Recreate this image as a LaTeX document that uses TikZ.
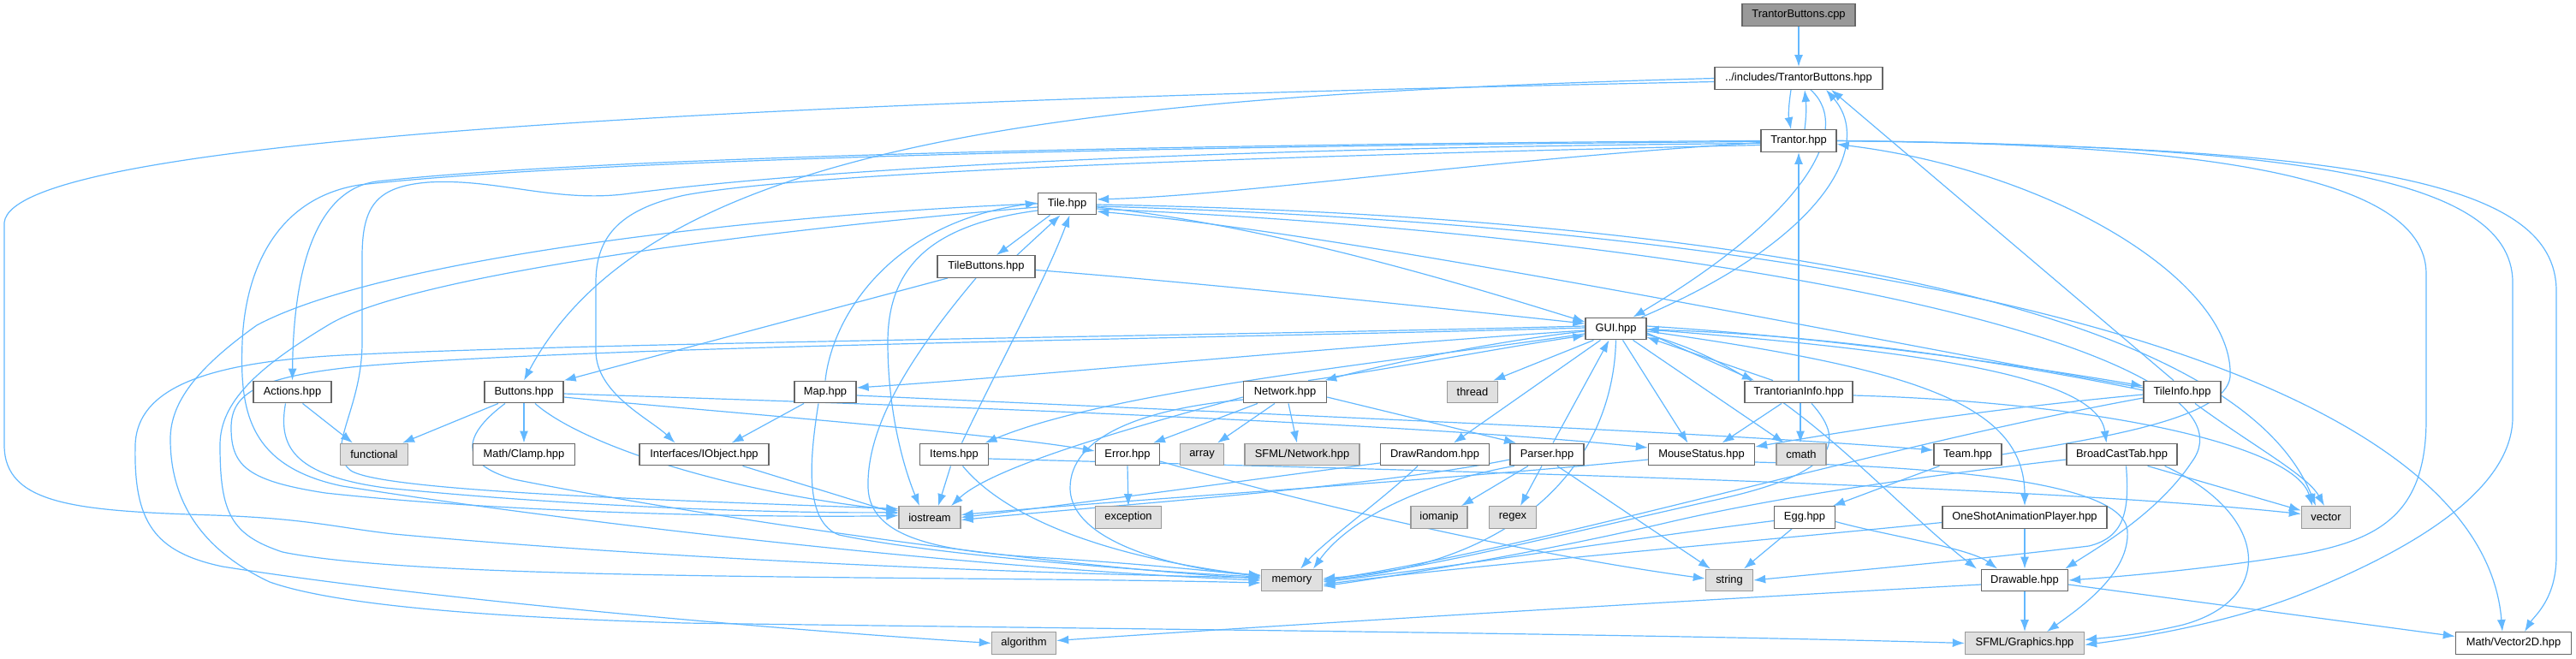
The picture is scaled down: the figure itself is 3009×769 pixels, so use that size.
\documentclass[tikz,border=0pt]{standalone}
\usepackage{fontspec}
\newfontfamily\lblfont{Liberation Sans}
\usetikzlibrary{arrows.meta}
\definecolor{edgec}{HTML}{63B8FF}
\definecolor{bdc}{HTML}{666666}
\definecolor{sysbd}{HTML}{999999}
\definecolor{sysfill}{HTML}{E0E0E0}
\definecolor{rootfill}{HTML}{999999}
\pgfdeclarelayer{bg}
\pgfsetlayers{bg,main}
\tikzset{
 box/.style={draw=bdc, fill=white, line width=1.4pt, minimum height=25.5pt, inner sep=0pt, font=\lblfont\fontsize{12.9pt}{15pt}\selectfont},
 sys/.style={box, draw=sysbd, fill=sysfill},
 rootbox/.style={box, fill=rootfill},
 edg/.style={draw=edgec, line width=1.2pt, -{Latex[length=14pt,width=10pt]}},
}
\begin{document}
\begin{tikzpicture}[x=1pt,y=-1pt]
\useasboundingbox (0,0) rectangle (3009,769);
% nodes
\node[rootbox, minimum width=132pt] (C) at (2101,17.5) {TrantorButtons.cpp};
\node[box, minimum width=196pt] (TBH) at (2101,91.5) {../includes/TrantorButtons.hpp};
\node[box, minimum width=88pt] (TR) at (2101,164.5) {Trantor.hpp};
\node[box, minimum width=68pt] (Tile) at (1246.5,238) {Tile.hpp};
\node[box, minimum width=114pt] (TB) at (1152,311.5) {TileButtons.hpp};
\node[box, minimum width=71pt] (GUI) at (1887.5,384) {GUI.hpp};
\node[box, minimum width=91pt] (Act) at (341.5,458) {Actions.hpp};
\node[box, minimum width=92pt] (But) at (612,458) {Buttons.hpp};
\node[box, minimum width=72pt] (Map) at (964,458) {Map.hpp};
\node[box, minimum width=97pt] (Net) at (1501,458) {Network.hpp};
\node[sys, minimum width=59pt] (thr) at (1720,458) {thread};
\node[box, minimum width=126pt] (TI) at (2101,458) {TrantorianInfo.hpp};
\node[box, minimum width=90pt] (TLI) at (2549,458) {TileInfo.hpp};
\node[sys, minimum width=79pt] (fun) at (437,531) {functional};
\node[box, minimum width=119pt] (Cla) at (612,531) {Math/Clamp.hpp};
\node[box, minimum width=151pt] (IOb) at (822.5,531) {Interfaces/IObject.hpp};
\node[box, minimum width=80pt] (Ite) at (1114.5,531) {Items.hpp};
\node[box, minimum width=75pt] (Err) at (1317,531) {Error.hpp};
\node[sys, minimum width=51pt] (arr) at (1404,531) {array};
\node[sys, minimum width=134pt] (SFN) at (1521,531) {SFML/Network.hpp};
\node[box, minimum width=127pt] (DR) at (1676,531) {DrawRandom.hpp};
\node[box, minimum width=86pt] (Par) at (1807,531) {Parser.hpp};
\node[box, minimum width=124pt] (MS) at (1987.5,531) {MouseStatus.hpp};
\node[sys, minimum width=58pt] (cma) at (2104,531) {cmath};
\node[box, minimum width=79pt] (Tea) at (2298.5,531) {Team.hpp};
\node[box, minimum width=129pt] (BCT) at (2478.5,531) {BroadCastTab.hpp};
\node[sys, minimum width=72pt] (ios) at (1086,604.5) {iostream};
\node[sys, minimum width=77pt] (exc) at (1318,604.5) {exception};
\node[sys, minimum width=66pt] (iom) at (1681,604.5) {iomanip};
\node[sys, minimum width=55pt] (reg) at (1767,604.5) {regex};
\node[box, minimum width=71pt] (Egg) at (2108,604.5) {Egg.hpp};
\node[box, minimum width=192pt] (OS) at (2365,604.5) {OneShotAnimationPlayer.hpp};
\node[sys, minimum width=57pt] (vec) at (2717,604.5) {vector};
\node[sys, minimum width=71pt] (mem) at (1509,678) {memory};
\node[sys, minimum width=55pt] (str) at (2020,678) {string};
\node[box, minimum width=101pt] (Dra) at (2365,678) {Drawable.hpp};
\node[sys, minimum width=75pt] (alg) at (1196,751.5) {algorithm};
\node[sys, minimum width=139pt] (SFG) at (2365,751.5) {SFML/Graphics.hpp};
\node[box, minimum width=135pt] (V2D) at (2936,751.5) {Math/Vector2D.hpp};

\begin{pgfonlayer}{bg}
% root
\draw[edg] (C) -- (TBH);
% TrantorButtons.hpp
\draw[edg] ([xshift=-9pt]TBH.south) .. controls (2089,125) and (2089,135) .. ([xshift=-9pt]TR.north);
\draw[edg] ([xshift=7pt]TR.north) .. controls (2110,135) and (2110,125) .. ([xshift=7pt]TBH.south);
\draw[edg] ([xshift=14pt]TBH.south) .. controls (2165,150) and (2110,250) .. ([xshift=20pt]GUI.north);
\draw[edg] ([xshift=30pt]GUI.north) .. controls (2130,280) and (2190,170) .. ([xshift=32pt]TBH.south);
\draw[edg] (TBH.west) .. controls (1250,112) and (760,165) .. (But.north);
\draw[edg] ([yshift=-4pt]TBH.west) .. controls (900,118) and (15,160) .. (5,260) -- (5,520) .. controls (5,590) and (90,597) .. (250,602) .. controls (360,606) and (390,616) .. (460,624) .. controls (800,655) and (1200,670) .. ([yshift=3pt]mem.west);
% Trantor.hpp
\draw[edg] (TR.west) .. controls (1400,168) and (700,183) .. (440,212) .. controls (380,220) and (343,290) .. (Act.north);
\draw[edg] ([yshift=-1pt]TR.west) .. controls (1400,170) and (700,185) .. (420,216) .. controls (320,232) and (286,320) .. (283,400) .. controls (280,480) and (290,545) .. (400,568) .. controls (700,615) and (1150,665) .. (mem.west);
\draw[edg] ([yshift=-3pt]TR.west) .. controls (1500,172) and (1000,192) .. (736,226) .. controls (650,238) and (580,208) .. (500,213) .. controls (440,218) and (423,240) .. (423,300) -- (423,400) .. controls (423,480) and (378,525) .. (410,550) .. controls (450,575) and (800,585) .. ([yshift=10pt]ios.west);
\draw[edg] ([yshift=-5pt]TR.west) .. controls (1500,182) and (950,200) .. (800,228) .. controls (720,245) and (696,280) .. (696,330) -- (696,410) .. controls (696,460) and (760,490) .. ([xshift=-34pt]IOb.north);
\draw[edg] ([yshift=-2pt]TR.west) .. controls (1700,190) and (1450,228) .. ([yshift=5pt]Tile.east);
\draw[edg] (TR.east) .. controls (2550,168) and (2834,200) .. (2834,320) -- (2834,490) .. controls (2834,600) and (2780,630) .. (2690,647) .. controls (2600,662) and (2500,672) .. (Dra.east);
\draw[edg] (TR.east) .. controls (2650,170) and (2935,200) .. (2935,330) -- (2935,490) .. controls (2932,580) and (2800,650) .. (2681,697) .. controls (2600,728) and (2500,745) .. ([yshift=-2pt]SFG.east);
\draw[edg] (TR.east) .. controls (2750,172) and (2986,210) .. (2986,340) -- (2986,650) .. controls (2986,700) and (2960,720) .. ([xshift=13pt]V2D.north);
% Tile.hpp
\draw[edg] ([xshift=-20pt]Tile.south) -- ([xshift=12pt]TB.north);
\draw[edg] ([xshift=36pt]TB.north) -- ([xshift=-8pt]Tile.south);
\draw[edg] ([yshift=-8pt]Tile.west) .. controls (1090,262) and (1037,310) .. (1037,400) .. controls (1037,480) and (1055,545) .. ([xshift=-12pt]ios.north);
\draw[edg] (Map.north) .. controls (972,370) and (1040,260) .. ([yshift=1pt]Tile.west);
\draw[edg] ([xshift=9pt]Ite.north) .. controls (1160,440) and (1220,330) .. ([xshift=3pt]Tile.south);
\draw[edg] ([yshift=-4pt]Tile.east) .. controls (1500,265) and (1750,345) .. ([yshift=8pt]GUI.west);
\draw[edg] ([yshift=-1pt]Tile.east) .. controls (1900,250) and (2600,330) .. ([xshift=-12pt]vec.north);
\draw[edg] ([yshift=-3pt]Tile.east) .. controls (2300,270) and (2900,450) .. ([xshift=-13pt]V2D.north);
\draw[edg] ([yshift=-6pt]Tile.east) .. controls (2100,280) and (2650,420) .. (2560,540) .. controls (2520,600) and (2450,640) .. ([xshift=-4pt]Dra.north east);
\draw[edg] (Tile.west) .. controls (900,250) and (450,300) .. (300,380) .. controls (230,430) and (199,470) .. (199,513) .. controls (199,580) and (230,640) .. (315,680) .. controls (400,710) and (600,722) .. (800,728) .. controls (1300,735) and (1900,740) .. (SFG.west);
\draw[edg] ([yshift=-4pt]Tile.west) .. controls (900,268) and (480,320) .. (383,380) .. controls (300,430) and (257,470) .. (257,520) .. controls (257,600) and (270,625) .. (330,645) .. controls (500,680) and (1100,672) .. ([yshift=-3pt]mem.west);
% GUI.hpp
\draw[edg] ([yshift=-3pt]GUI.west) .. controls (1750,398) and (1620,425) .. ([xshift=-3pt]Net.north east);
\draw[edg] ([xshift=-22pt]Net.north east) .. controls (1620,432) and (1760,405) .. ([yshift=-8pt]GUI.west);
\draw[edg] ([xshift=-26pt]GUI.south) -- ([xshift=-6pt]thr.north east);
\draw[edg] ([xshift=-18pt]GUI.south) -- ([xshift=22pt]DR.north);
\draw[edg] ([xshift=7pt]Par.north) -- ([xshift=-8pt]GUI.south);
\draw[edg] ([xshift=8pt]GUI.south) -- ([xshift=-16pt]MS.north);
\draw[edg] ([xshift=20pt]GUI.south) -- ([xshift=-20pt]cma.north);
\draw[edg] ([yshift=-5pt]GUI.east) -- ([xshift=-52pt]TI.north);
\draw[edg] ([xshift=-30pt]TI.north) -- ([yshift=-10pt]GUI.east);
\draw[edg] ([yshift=3pt]GUI.east) .. controls (2150,395) and (2380,430) .. ([yshift=7pt]TLI.west);
\draw[edg] ([yshift=2pt]TLI.west) .. controls (2350,425) and (2150,392) .. ([yshift=-1pt]GUI.east);
\draw[edg] ([yshift=-1pt]GUI.east) .. controls (2250,410) and (2450,440) .. ([xshift=-18pt]BCT.north);
\draw[edg] ([yshift=-3pt]GUI.east) .. controls (2230,430) and (2365,470) .. (OS.north);
\draw[edg] ([yshift=-7pt]GUI.east) .. controls (2080,430) and (2200,580) .. ([xshift=-56pt]Dra.north);
\draw[edg] ([yshift=-2pt]GUI.west) .. controls (1500,410) and (1200,440) .. ([yshift=5pt]Map.east);
\draw[edg] ([yshift=-6pt]GUI.west) .. controls (1650,420) and (1300,455) .. ([xshift=36pt]Ite.north);
\draw[edg] (GUI.south) .. controls (1885,520) and (1800,655) .. (mem.east);
\draw[edg] ([yshift=3pt]GUI.west) .. controls (1400,393) and (700,400) .. (400,415) .. controls (250,423) and (160,450) .. (158,520) .. controls (156,610) and (180,645) .. (260,662) .. controls (500,700) and (900,735) .. (alg.west);
\draw[edg] ([yshift=1pt]GUI.west) .. controls (1400,396) and (700,404) .. (420,428) .. controls (300,440) and (270,460) .. (270,500) .. controls (270,545) and (290,562) .. (380,576) .. controls (600,600) and (900,605) .. ([yshift=2pt]ios.west);
% Network.hpp
\draw[edg] ([xshift=-32pt]Net.south) -- ([xshift=30pt]Err.north);
\draw[edg] ([xshift=-12pt]Net.south) -- ([xshift=18pt]arr.north);
\draw[edg] ([xshift=4pt]Net.south) -- ([xshift=-6pt]SFN.north);
\draw[edg] ([yshift=-6pt]Net.east) -- ([xshift=-36pt]Par.north);
\draw[edg] ([yshift=-6pt]Net.west) .. controls (1320,500) and (1160,545) .. ([xshift=25pt]ios.north);
\draw[edg] ([yshift=-9pt]Net.west) .. controls (1330,478) and (1250,512) .. (1250,570) .. controls (1250,640) and (1400,668) .. ([yshift=6pt]mem.west);
% Map.hpp
\draw[edg] ([xshift=-25pt]Map.south) -- ([xshift=32pt]IOb.north);
\draw[edg] ([xshift=-8pt]Map.south) .. controls (945,540) and (940,610) .. (980,625) .. controls (1100,650) and (1350,668) .. ([yshift=4pt]mem.west);
\draw[edg] ([yshift=-4pt]Map.east) .. controls (1500,485) and (2000,505) .. ([yshift=5pt]Tea.west);
% Items.hpp
\draw[edg] ([xshift=-4pt]Ite.south) -- ([xshift=10pt]ios.north);
\draw[edg] ([xshift=10pt]Ite.south) .. controls (1170,600) and (1280,650) .. ([yshift=5pt]mem.west);
\draw[edg] ([yshift=-5pt]Ite.east) .. controls (1600,548) and (2350,565) .. ([yshift=4pt]vec.west);
% Error.hpp
\draw[edg] (Err.south) -- (exc.north);
\draw[edg] ([yshift=-8pt]Err.east) .. controls (1550,595) and (1800,650) .. ([yshift=2pt]str.west);
% Buttons.hpp
\draw[edg] ([xshift=-30pt]But.south) -- ([xshift=33pt]fun.north);
\draw[edg] (But.south) -- (Cla.north);
\draw[edg] ([xshift=13pt]But.south) .. controls (680,520) and (850,575) .. ([yshift=8pt]ios.west);
\draw[edg] ([xshift=-22pt]But.south) .. controls (545,505) and (530,540) .. (600,560) .. controls (800,600) and (1200,660) .. ([yshift=2pt]mem.west);
\draw[edg] ([yshift=-6pt]But.east) .. controls (800,478) and (1150,505) .. ([yshift=4pt]Err.west);
\draw[edg] ([yshift=-2pt]But.east) .. controls (900,468) and (1600,490) .. ([yshift=8pt]MS.west);
% Interfaces/IObject.hpp
\draw[edg] ([xshift=45pt]IOb.south) -- ([yshift=4pt]ios.west);
% Actions.hpp
\draw[edg] ([xshift=12pt]Act.south) -- ([xshift=-25pt]fun.north);
\draw[edg] ([xshift=-8pt]Act.south) .. controls (325,520) and (340,555) .. (450,570) .. controls (700,595) and (950,600) .. ([yshift=6pt]ios.west);
% TileButtons.hpp
\draw[edg] ([xshift=-45pt]TB.south) -- (But.north east);
\draw[edg] ([yshift=-4pt]TB.east) .. controls (1400,330) and (1700,362) .. ([yshift=6pt]GUI.west);
\draw[edg] ([xshift=-12pt]TB.south) .. controls (1060,420) and (1012,500) .. (1014,570) .. controls (1016,630) and (1100,645) .. (1225,652) .. controls (1350,660) and (1420,668) .. ([yshift=5pt]mem.west);
% TrantorianInfo.hpp
\draw[edg] (TI.north) -- (TR.south);
\draw[edg] ([xshift=-20pt]TI.south) -- ([xshift=24pt]MS.north);
\draw[edg] ([xshift=2pt]TI.south) -- ([xshift=-1pt]cma.north);
\draw[edg] ([yshift=-4pt]TI.east) .. controls (2450,470) and (2680,520) .. ([xshift=-16pt]vec.north);
\draw[edg] ([xshift=15pt]TI.south) .. controls (2160,520) and (2140,555) .. (2000,585) .. controls (1800,630) and (1650,668) .. ([yshift=2pt]mem.east);
% TileInfo.hpp
\draw[edg] ([xshift=-10pt]TLI.north) -- ([xshift=38pt]TBH.south);
\draw[edg] ([yshift=5pt]TLI.west) .. controls (2300,420) and (1600,275) .. ([yshift=-9pt]Tile.east);
\draw[edg] ([yshift=-3pt]TLI.west) .. controls (2300,480) and (2150,505) .. ([yshift=9pt]MS.east);
\draw[edg] ([yshift=-7pt]TLI.west) .. controls (2200,520) and (1800,640) .. (mem.east);
\draw[edg] ([xshift=15pt]TLI.south) .. controls (2630,520) and (2695,555) .. ([xshift=-2pt]vec.north);
% Parser.hpp
\draw[edg] ([xshift=-22pt]Par.south) -- ([xshift=26pt]iom.north);
\draw[edg] ([xshift=-6pt]Par.south) -- ([xshift=9pt]reg.north);
\draw[edg] ([xshift=12pt]Par.south) -- ([xshift=-22pt]str.north);
\draw[edg] ([xshift=-38pt]Par.south) .. controls (1680,560) and (1580,600) .. ([xshift=25pt]mem.north);
\draw[edg] ([yshift=-6pt]Par.west) .. controls (1600,570) and (1300,590) .. ([yshift=-3pt]ios.east);
% DrawRandom.hpp
\draw[edg] ([xshift=-20pt]DR.south) .. controls (1620,580) and (1550,630) .. ([xshift=10pt]mem.north);
\draw[edg] ([yshift=-10pt]DR.west) .. controls (1500,555) and (1250,590) .. (ios.east);
% MouseStatus.hpp
\draw[edg] ([yshift=-6pt]MS.west) .. controls (1700,560) and (1300,585) .. ([yshift=3pt]ios.east);
\draw[edg] ([yshift=-9pt]MS.east) .. controls (2250,545) and (2480,560) .. (2485,620) .. controls (2488,670) and (2430,710) .. ([xshift=26pt]SFG.north);
% Team.hpp
\draw[edg] (Tea.east) .. controls (2450,512) and (2600,490) .. (2605,440) .. controls (2610,330) and (2400,200) .. ([yshift=-4pt]TR.east);
\draw[edg] ([xshift=-33pt]Tea.south) -- ([xshift=33pt]Egg.north);
% Egg.hpp
\draw[edg] ([xshift=-15pt]Egg.south) -- ([xshift=17pt]str.north);
\draw[edg] ([yshift=-4pt]Egg.west) .. controls (1900,630) and (1700,662) .. ([yshift=-2pt]mem.east);
\draw[edg] ([yshift=-5pt]Egg.east) .. controls (2200,625) and (2300,640) .. ([xshift=-32pt]Dra.north);
% OneShotAnimationPlayer.hpp
\draw[edg] (OS.south) -- (Dra.north);
\draw[edg] ([yshift=-6pt]OS.west) .. controls (2100,628) and (1700,662) .. ([yshift=-5pt]mem.east);
% BroadCastTab.hpp
\draw[edg] ([xshift=30pt]BCT.south) -- ([yshift=8pt]vec.west);
\draw[edg] ([xshift=50pt]BCT.south) .. controls (2650,600) and (2660,700) .. (2550,730) .. controls (2500,742) and (2460,745) .. ([yshift=4pt]SFG.east);
\draw[edg] ([xshift=5pt]BCT.south) .. controls (2488,600) and (2480,628) .. (2440,638) .. controls (2300,655) and (2150,668) .. (str.east);
\draw[edg] ([yshift=-6pt]BCT.west) .. controls (2300,550) and (2100,575) .. (1950,610) .. controls (1800,645) and (1650,670) .. ([yshift=-7pt]mem.east);
% Drawable.hpp
\draw[edg] (Dra.south) -- (SFG.north);
\draw[edg] ([yshift=-5pt]Dra.east) -- ([yshift=8pt]V2D.west);
\draw[edg] ([yshift=-5pt]Dra.west) .. controls (2000,700) and (1500,730) .. ([yshift=3pt]alg.east);
\end{pgfonlayer}
\end{tikzpicture}
\end{document}
